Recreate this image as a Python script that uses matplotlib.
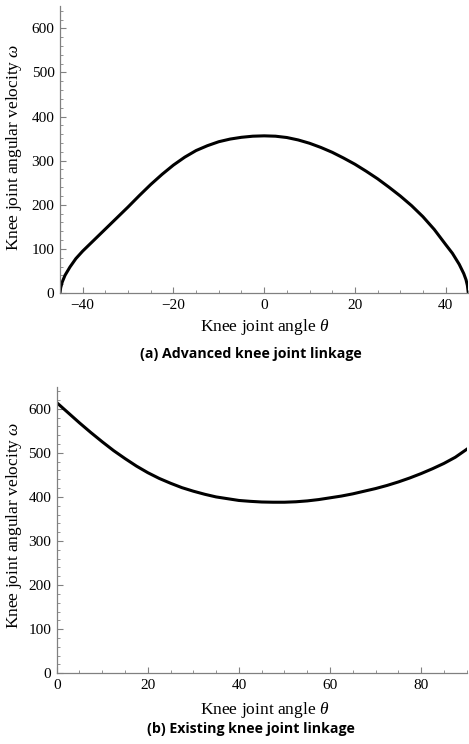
import numpy as np
import matplotlib
matplotlib.use("Agg")
import matplotlib.pyplot as plt
from matplotlib.ticker import MultipleLocator

# (a) advanced knee joint linkage: angle vs angular velocity
theta_a = [-45, -44.85, -44.5, -43.9, -42.8, -41.5, -40, -37.5, -35, -32.5, -30,
           -27.5, -25, -22.5, -20, -17.5, -15, -12.5, -10, -7.5, -5, -2.5, 0,
           2.5, 5, 7.5, 10, 12.5, 15, 17.5, 20, 22.5, 25, 27.5, 30, 32.5, 35,
           37.5, 40, 41.5, 43, 44, 44.5, 44.8, 45]
omega_a = [0, 12, 25, 40, 59, 78, 95, 120, 145, 170, 195,
           221, 246, 269, 290, 308, 323, 334, 343, 349, 353, 355.5, 356.3,
           355.5, 352.5, 347, 339.5, 330, 319, 306, 292, 276, 259, 240, 220, 198, 173,
           144, 110, 90, 65, 44, 30, 17, 0]

# (b) existing knee joint linkage
theta_b = [0, 2.5, 5, 7.5, 10, 12.5, 15, 17.5, 20, 22.5, 25, 27.5, 30, 32.5, 35,
           37.5, 40, 42.5, 45, 47.5, 50, 52.5, 55, 57.5, 60, 62.5, 65, 67.5, 70,
           72.5, 75, 77.5, 80, 82.5, 85, 87.5, 90]
omega_b = [614, 591, 568, 546, 525, 505, 487, 470, 455, 442, 431, 421, 413, 406, 400,
           396, 392, 390, 388.5, 388, 388, 389, 391, 394, 398, 402, 407, 413, 419,
           426, 434, 443, 453, 464, 476, 490, 508]

plt.rcParams['mathtext.fontset'] = 'custom'
plt.rcParams['mathtext.rm'] = 'Liberation Serif'
plt.rcParams['mathtext.it'] = 'Liberation Serif:italic'

W, H = 469, 744
fig = plt.figure(figsize=(W / 100, H / 100), dpi=100)

serif = 'Liberation Serif'
spine_col = '#808080'


def setup(ax, xlim, xmaj, xmin):
    ax.set_xlim(*xlim)
    ax.set_ylim(0, 650)
    for s in ['top', 'right']:
        ax.spines[s].set_visible(False)
    for s in ['left', 'bottom']:
        ax.spines[s].set_color(spine_col)
        ax.spines[s].set_linewidth(0.9)
    ax.xaxis.set_major_locator(MultipleLocator(xmaj))
    ax.xaxis.set_minor_locator(MultipleLocator(xmin))
    ax.yaxis.set_major_locator(MultipleLocator(100))
    ax.yaxis.set_minor_locator(MultipleLocator(20))
    ax.tick_params(which='major', direction='in', length=4, width=0.8,
                   color=spine_col, labelsize=11, pad=4)
    ax.tick_params(which='minor', direction='in', length=2.2, width=0.6,
                   color=spine_col)
    ax.yaxis.set_major_formatter(plt.FuncFormatter(lambda v, p: f"{v:.0f}"))
    ax.xaxis.set_major_formatter(plt.FuncFormatter(
        lambda v, p: f"{v:.0f}".replace('-', '\u2212')))
    for lab in ax.get_xticklabels() + ax.get_yticklabels():
        lab.set_fontfamily(serif)


# top panel
ax1 = fig.add_axes([60 / W, (H - 293) / H, 408.3 / W, 286.7 / H])
ax1.plot(theta_a, omega_a, color='black', lw=2.2)
setup(ax1, (-45, 45), 20, 5)
fig.text(265 / W, 1 - 327 / H, 'Knee joint angle $\\theta$', family=serif,
         fontsize=12.5, ha='center', va='center')
fig.text(14 / W, 1 - 147 / H, 'Knee joint angular velocity $\\omega$', family=serif,
         fontsize=12.5, ha='center', va='center', rotation=90)
fig.text(251 / W, 1 - 354 / H, '(a) Advanced knee joint linkage', family='Open Sans',
         fontweight='bold', fontsize=10.2, ha='center', va='center')

# bottom panel
ax2 = fig.add_axes([56.7 / W, (H - 673.3) / H, 410 / W, 286.6 / H])
ax2.plot(theta_b, omega_b, color='black', lw=2.2)
setup(ax2, (0, 90), 20, 5)
fig.text(265 / W, 1 - 710 / H, 'Knee joint angle $\\theta$', family=serif,
         fontsize=12.5, ha='center', va='center')
fig.text(14 / W, 1 - 525 / H, 'Knee joint angular velocity $\\omega$', family=serif,
         fontsize=12.5, ha='center', va='center', rotation=90)
fig.text(251 / W, 1 - 729 / H, '(b) Existing knee joint linkage', family='Open Sans',
         fontweight='bold', fontsize=10.2, ha='center', va='center')

fig.savefig('out.png', dpi=100)
